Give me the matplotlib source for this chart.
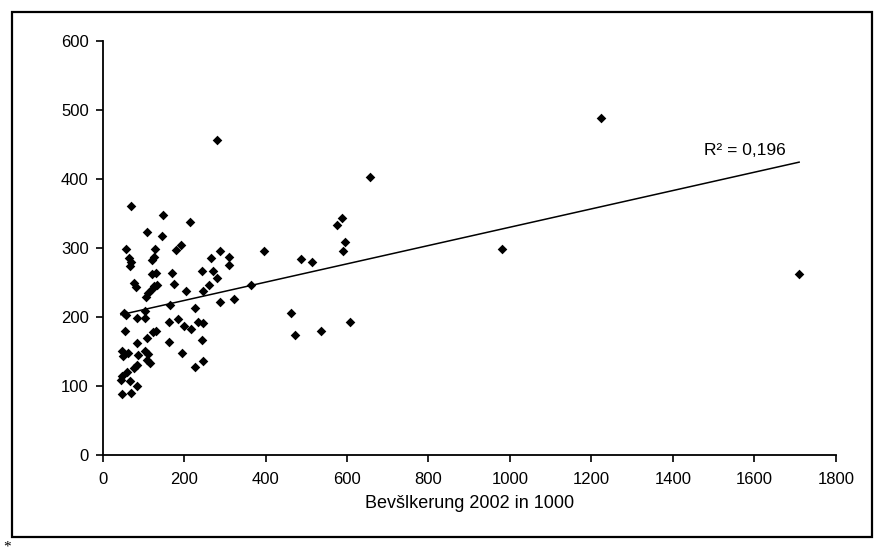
import numpy as np
import matplotlib
matplotlib.use("Agg")
import matplotlib.pyplot as plt
from matplotlib.patches import Rectangle

# Data (population 2002 in 1000 vs. value)
pop = [70, 149, 110, 145, 58, 129, 125, 122, 66, 70, 67, 180, 122, 131, 170,
       176, 78, 82, 125, 133, 121, 112, 107, 52, 58, 103, 84, 104, 166, 163,
       185, 55, 131, 123, 108, 84, 163, 47, 63, 51, 86, 104, 111, 117, 108,
       84, 78, 59, 47, 45, 67, 84, 47, 70,
       193, 215, 288, 266, 311, 311, 397, 243, 272, 282, 260, 247, 205, 364,
       287, 323, 227, 200, 217, 235, 247, 245, 194, 246, 227, 486, 515, 462,
       472, 537, 607, 587, 576, 595, 591, 280, 656, 1223, 980, 1710]
val = [361, 348, 323, 317, 299, 299, 287, 283, 285, 279, 274, 297, 262, 263, 263,
       247, 249, 244, 245, 246, 240, 234, 229, 206, 203, 209, 199, 198, 217, 192,
       197, 180, 180, 178, 169, 162, 163, 150, 147, 143, 145, 150, 146, 133, 138,
       130, 126, 120, 115, 109, 107, 100, 88, 89,
       304, 337, 296, 286, 287, 275, 296, 267, 267, 257, 246, 237, 237, 246,
       222, 226, 213, 187, 183, 192, 191, 167, 147, 136, 127, 284, 279, 205,
       174, 180, 192, 344, 333, 309, 295, 457, 403, 488, 298, 262]

x_ticks = [0, 200, 400, 600, 800, 1000, 1200, 1400, 1600, 1800]
y_ticks = [0, 100, 200, 300, 400, 500, 600]
x_label = "Bevšlkerung 2002 in 1000"
r2_label = "R² = 0,196"

plt.rcParams["font.family"] = ["Liberation Sans", "DejaVu Sans"]

fig = plt.figure(figsize=(8.77, 5.54), dpi=100)
ax = fig.add_axes([0.117, 0.179, 0.836, 0.747])

x = np.array(pop, dtype=float)
y = np.array(val, dtype=float)
ax.scatter(x, y, marker="D", s=24, color="black", linewidths=0, zorder=3)

# linear trend line over the data range
k, d = np.polyfit(x, y, 1)
xs = np.array([x.min(), x.max()])
ax.plot(xs, k * xs + d, color="black", linewidth=1.1)
ax.text(1477, 431, r2_label, fontsize=12.5, va="bottom", ha="left")

ax.set_xlim(0, 1800)
ax.set_ylim(0, 600)
ax.set_xticks(x_ticks)
ax.set_yticks(y_ticks)
ax.tick_params(direction="out", length=5, width=1.2, labelsize=12, colors="black")
ax.tick_params(axis="x", pad=7)
ax.tick_params(axis="y", pad=5)
for s in ["top", "right"]:
    ax.spines[s].set_visible(False)
for s in ["left", "bottom"]:
    ax.spines[s].set_linewidth(1.3)
ax.set_xlabel(x_label, fontsize=13, labelpad=6)

# frame around the chart as in the scan
fig.patches.append(Rectangle((0.014, 0.031), 0.98, 0.947, transform=fig.transFigure,
                             fill=False, edgecolor="black", linewidth=1.6))
fig.text(0.004, 0.0, "*", fontsize=11, va="bottom", ha="left", family="Liberation Serif")

fig.savefig("out.png", dpi=100)
